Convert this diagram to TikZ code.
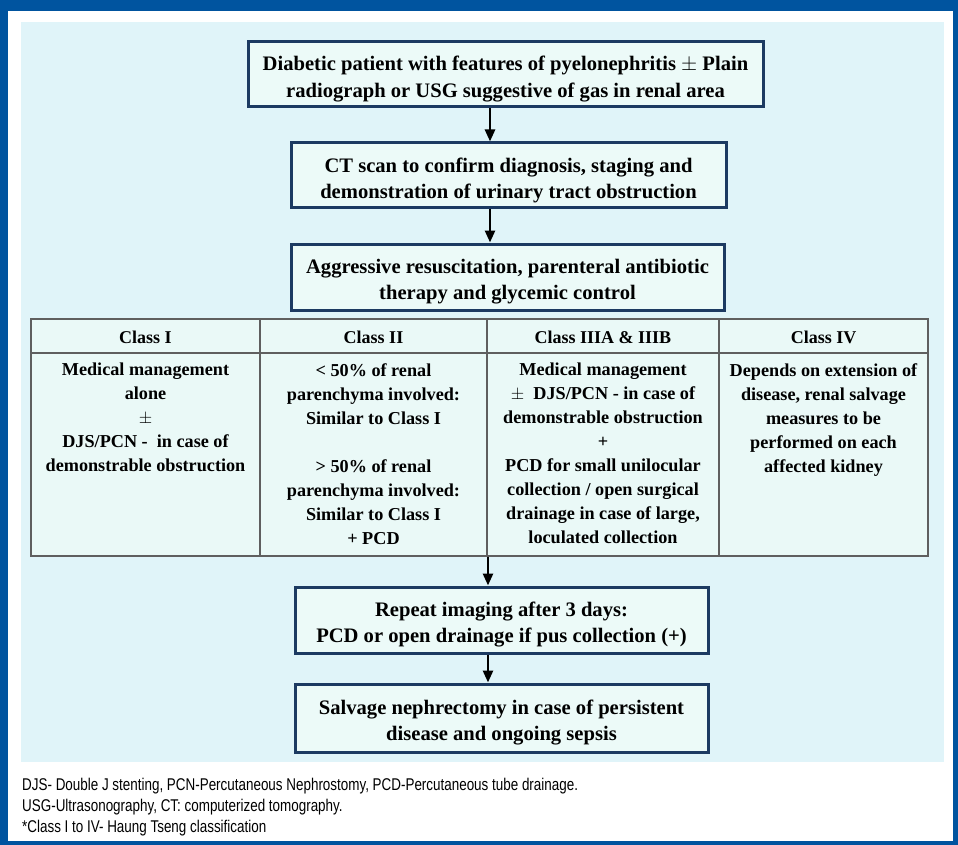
\documentclass[tikz,border=0pt]{standalone}
\usepackage{fontspec}
\setmainfont{Liberation Serif}
\newfontfamily\footfont[FakeStretch=0.79]{Liberation Sans}
\usetikzlibrary{arrows.meta,calc}
\definecolor{frameblue}{RGB}{0,84,159}
\definecolor{cyanbg}{RGB}{224,244,249}
\definecolor{boxfill}{RGB}{236,250,248}
\definecolor{boxline}{RGB}{28,58,98}
\definecolor{tabline}{RGB}{95,95,95}
\definecolor{tabfill}{RGB}{234,249,247}
\newcommand{\topstrut}{\rule{0pt}{24pt}}
\tikzset{
  x=1pt,y=-1pt,
  flowbox/.style={draw=boxline,fill=boxfill,line width=3pt,inner sep=0pt,
    font=\fontsize{20.6}{26.5}\selectfont\bfseries,align=center},
  cellhead/.style={font=\fontsize{18}{24}\selectfont\bfseries,align=center,inner sep=0pt},
  cellbody/.style={font=\fontsize{18.2}{24}\selectfont\bfseries,align=center,inner sep=0pt,anchor=north},
  flowarrow/.style={-{Triangle[width=10pt,length=12pt]},line width=2.6pt,black},
  footline/.style={font=\footfont\fontsize{17}{20}\selectfont,anchor=west,inner sep=0pt}
}
\begin{document}
\begin{tikzpicture}
\useasboundingbox (0,0) rectangle (958,845);
% frame
\fill[frameblue] (0,0) rectangle (958,845);
\fill[white] (8,11) rectangle (953,841);
\fill[cyanbg] (21,22) rectangle (944,762);
% boxes
\node[flowbox,minimum width=515pt,minimum height=65pt] (b1) at (505.5,74.5)
  {\topstrut Diabetic patient with features of pyelonephritis $\pm$ Plain\\radiograph or USG suggestive of gas in renal area};
\node[flowbox,minimum width=435pt,minimum height=65pt] (b2) at (508.5,175.5)
  {\topstrut CT scan to confirm diagnosis, staging and\\demonstration of urinary tract obstruction};
\node[flowbox,minimum width=433pt,minimum height=66pt] (b3) at (507.5,277)
  {\topstrut Aggressive resuscitation, parenteral antibiotic\\therapy and glycemic control};
\node[flowbox,minimum width=413pt,minimum height=66pt] (b4) at (501.5,620)
  {\topstrut Repeat imaging after 3 days:\\PCD or open drainage if pus collection (+)};
\node[flowbox,minimum width=413pt,minimum height=68pt] (b5) at (501.5,718)
  {\topstrut Salvage nephrectomy in case of persistent\\disease and ongoing sepsis};
% table
\node[draw=tabline,fill=tabfill,line width=1.2pt,minimum width=897pt,minimum height=237pt,inner sep=0pt] (tbl) at (479.5,437.5) {};
\draw[tabline,line width=1.8pt] (tbl.north west) -- (tbl.north east);
\coordinate (r1) at (0,353);
\coordinate (k1) at (260,0);
\coordinate (k2) at (487,0);
\coordinate (k3) at (719,0);
\draw[tabline,line width=1.2pt] (tbl.west |- r1) -- (tbl.east |- r1);
\draw[tabline,line width=1.2pt] (tbl.north -| k1) -- (tbl.south -| k1);
\draw[tabline,line width=1.2pt] (tbl.north -| k2) -- (tbl.south -| k2);
\draw[tabline,line width=1.2pt] (tbl.north -| k3) -- (tbl.south -| k3);
\node[cellhead] (h1) at (145.5,337) {Class I};
\node[cellhead] (h2) at (373.5,337) {Class II};
\node[cellhead] (h3) at (603,337) {Class IIIA \& IIIB};
\node[cellhead] (h4) at (823.5,337) {Class IV};
\node[cellbody] (c1) at (145.5,363) {Medical management\\alone\\$\pm$\\DJS/PCN -\ \ in case of\\demonstrable obstruction};
\node[cellbody] (c2) at (373.5,363) {{<} 50\% of renal\\parenchyma involved:\\Similar to Class I\\[24pt]{>} 50\% of renal\\parenchyma involved:\\Similar to Class I\\+ PCD};
\node[cellbody] (c3) at (603,363) {Medical management\\$\pm$\ \ DJS/PCN - in case of\\demonstrable obstruction\\+\\PCD for small unilocular\\collection / open surgical\\drainage in case of large,\\loculated collection};
\node[cellbody] (c4) at (823.5,363) {Depends on extension of\\disease, renal salvage\\measures to be\\performed on each\\affected kidney};
% arrows
\coordinate (ax) at (490,0);
\coordinate (bx) at (488,0);
\draw[flowarrow] (b1.south -| ax) -- (b2.north -| ax);
\draw[flowarrow] (b2.south -| ax) -- (b3.north -| ax);
\draw[flowarrow] (tbl.south -| bx) -- (b4.north -| bx);
\draw[flowarrow] (b4.south -| bx) -- (b5.north -| bx);
% footnotes
\node[footline] (f1) at (22,786) {DJS- Double J stenting, PCN-Percutaneous Nephrostomy, PCD-Percutaneous tube drainage.};
\node[footline] (f2) at (22,807) {USG-Ultrasonography, CT: computerized tomography.};
\node[footline] (f3) at (22,828) {*Class I to IV- Haung Tseng classification};
\end{tikzpicture}
\end{document}
